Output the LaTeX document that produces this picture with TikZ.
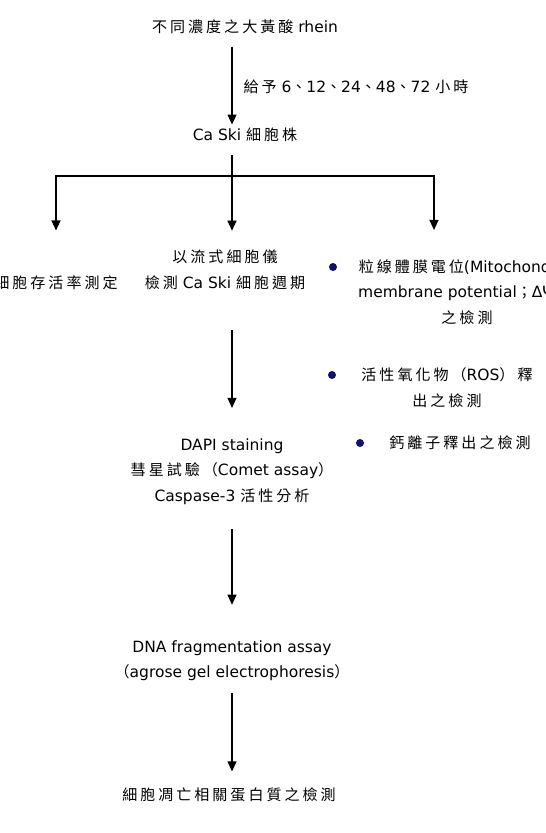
\documentclass[tikz,border=0pt]{standalone}
\usepackage{fontspec}
\setmainfont{DejaVu Sans}
\newfontfamily\cjk[Scale=0.97,LetterSpace=20]{Noto Sans CJK TC}
\definecolor{bulletNavy}{RGB}{16,16,110}
\usetikzlibrary{arrows.meta}

\begin{document}
\begin{tikzpicture}[x=1bp, y=-1bp, line width=1.1bp,
    every node/.style={font=\fontsize{15.5bp}{25.5bp}\selectfont, inner sep=0pt, align=center},
    arr/.style={-{Triangle[length=10bp,width=9bp]}},
    dot/.style={circle, fill=bulletNavy, minimum size=8bp}]
  \useasboundingbox (0,0) rectangle (546,833);
  \clip (0,0) rectangle (546,833);

  \node (rhein) at (245,27) {{\cjk 不同濃度之大黃酸} rhein};
  \node[anchor=west] (hours) at (243,87) {{\cjk 給予} 6{\cjk 、}12{\cjk 、}24{\cjk 、}48{\cjk 、}72 {\cjk 小時}};
  \node (caski) at (245,135) {Ca Ski {\cjk 細胞株}};

  \coordinate (fork) at (232,176);
  \coordinate (rcol) at (434,176);

  \node (viab) at (56,283) {{\cjk 細胞存活率測定}};
  \node (cycle) at (225,270) {{\cjk 以流式細胞儀}\\{\cjk 檢測} Ca Ski {\cjk 細胞週期}};

  \node[dot] (b1) at (333,267) {};
  \node (mito) at (467,292) {{\cjk 粒線體膜電位}(Mitochondrial\\membrane potential{\cjk ；}ΔΨm)\\{\cjk 之檢測}};
  \node[dot] (b2) at (332,375) {};
  \node (ros) at (447,387.5) {{\cjk 活性氧化物（}ROS{\cjk ）釋}\\{\cjk 出之檢測}};
  \node[dot] (b3) at (360,443) {};
  \node (calcium) at (460,443) {{\cjk 鈣離子釋出之檢測}};

  \node (dapi) at (232,471.5) {DAPI staining\\{\cjk 彗星試驗（}Comet assay{\cjk ）}\\Caspase-3 {\cjk 活性分析}};
  \node (dna) at (232,660.5) {DNA fragmentation assay\\{\cjk （}agrose gel electrophoresis{\cjk ）}};
  \node (apop) at (229,795) {{\cjk 細胞凋亡相關蛋白質之檢測}};

  \draw[arr, shorten <=12bp, shorten >=3bp] (rhein.south -| fork) -- (caski.north -| fork);
  \draw[shorten <=13bp] (caski.south -| fork) -- (fork);
  \draw[arr, shorten >=45bp] (fork) -| (viab);
  \draw[arr, shorten >=19bp] (fork) -- (cycle.north -| fork);
  \draw[arr, shorten >=29bp] (fork) -| (mito.north -| rcol);

  \draw[arr, shorten <=40bp, shorten >=30bp] (cycle.south -| fork) -- (dapi.north -| fork);
  \draw[arr, shorten <=24bp, shorten >=35bp] (dapi.south -| fork) -- (dna.north -| fork);
  \draw[arr, shorten <=12bp, shorten >=16bp] (dna.south -| fork) -- (apop.north -| fork);
\end{tikzpicture}
\end{document}
